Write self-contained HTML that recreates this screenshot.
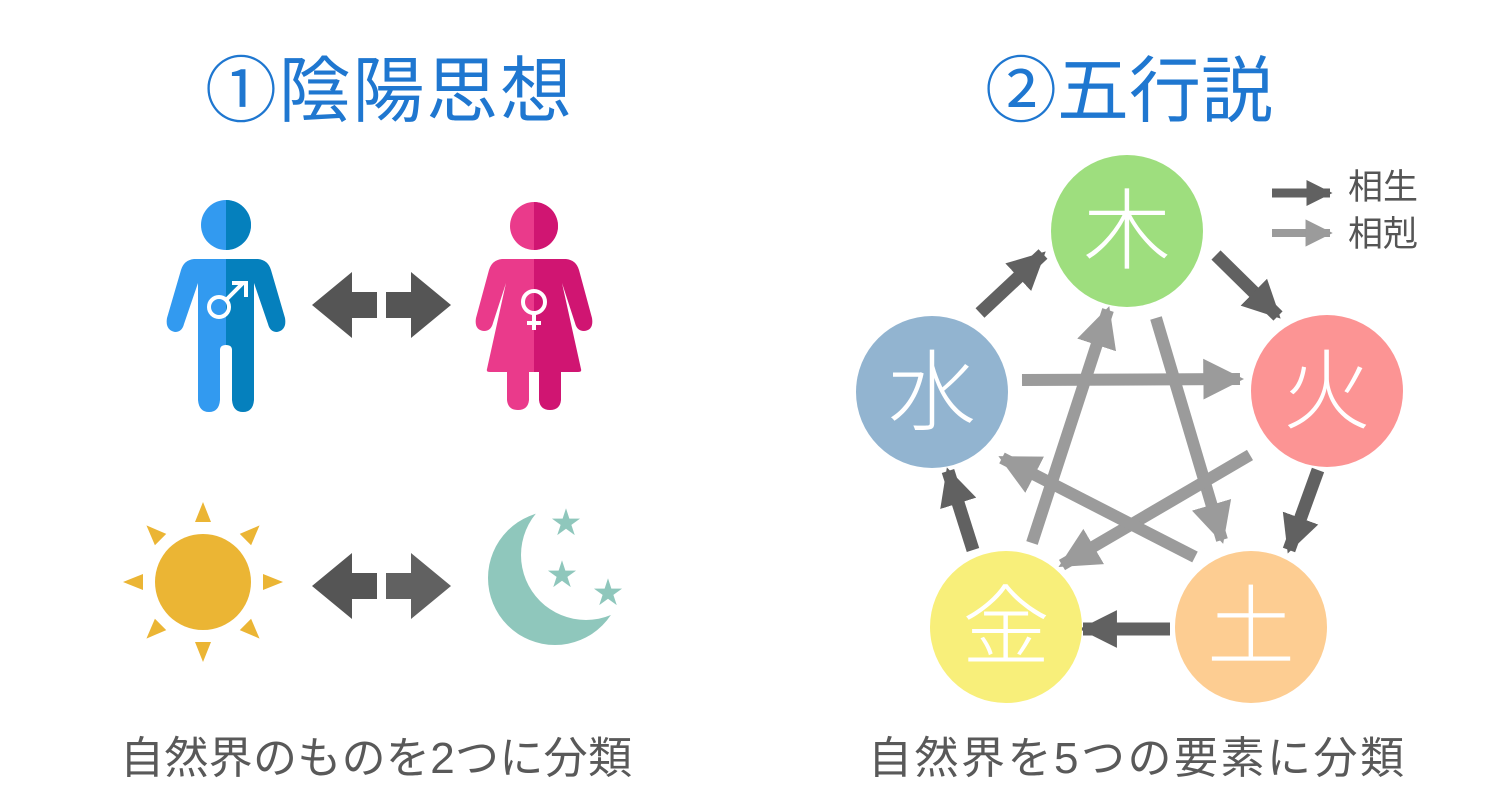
<!DOCTYPE html>
<html><head><meta charset="utf-8"><style>
html,body{margin:0;padding:0;background:#fff;width:1500px;height:800px;overflow:hidden}
svg{display:block}
text{font-family:"Liberation Sans","Noto Sans CJK JP",sans-serif}
</style></head><body>
<svg width="1500" height="800" viewBox="0 0 1500 800" xmlns="http://www.w3.org/2000/svg">
<defs>
<marker id="md" viewBox="0 0 10 10" refX="9" refY="5" markerWidth="2.9" markerHeight="3.2" orient="auto" markerUnits="strokeWidth"><path d="M0,0 L10,5 L0,10 z" fill="#616161"/></marker>
<marker id="mg" viewBox="0 0 10 10" refX="9" refY="5" markerWidth="3.4" markerHeight="3.6" orient="auto" markerUnits="strokeWidth"><path d="M0,0 L10,5 L0,10 z" fill="#9b9b9b"/></marker>
<mask id="moonmask">
<rect x="0" y="0" width="1500" height="800" fill="#000"/>
<circle cx="555" cy="578" r="67" fill="#fff"/>
<circle cx="586" cy="555" r="65" fill="#000"/>
</mask>
</defs>

<text x="205" y="116" font-size="72" fill="#1f77d0" textLength="367">①陰陽思想</text>
<text x="985" y="116" font-size="72" fill="#1f77d0" textLength="288">②五行説</text>

<g>
<circle cx="226" cy="225" r="25" fill="#329af0"/>
<path d="M226 200 A25 25 0 0 1 226 250 z" fill="#0580bd"/>
<path d="M226 259 L194 259 Q184 260 181 270 L167 318 Q165 330 175 332 Q182 332 184 324 L198 283 L198 400 Q199 412 209 412 Q219 412 220 400 L220 350 Q220 345 226 345 Z" fill="#329af0"/>
<path d="M226 259 L258 259 Q268 260 271 270 L285 318 Q287 330 277 332 Q270 332 268 324 L254 283 L254 400 Q253 412 243 412 Q233 412 232 400 L232 350 Q232 345 226 345 Z" fill="#0580bd"/>
<circle cx="219" cy="307" r="10" fill="none" stroke="#fff" stroke-width="4"/>
<path d="M226 300 L243 283 M232 283 L246 283 L246 297" fill="none" stroke="#fff" stroke-width="4"/>
</g>
<g>
<circle cx="534" cy="226" r="24" fill="#ea3a8b"/>
<path d="M534 202 A24 24 0 0 1 534 250 z" fill="#d01572"/>
<path d="M534 259 L502 259 Q492 260 489 270 L476 318 Q474 330 484 331 Q491 331 493 323 L506 283 L487 369 Q486 372 490 372 L507 372 L507 400 Q508 410 518 410 Q528 410 529 400 L529 372 L534 372 Z" fill="#ea3a8b"/>
<path d="M534 259 L566 259 Q576 260 579 270 L592 318 Q594 330 584 331 Q577 331 575 323 L562 283 L581 369 Q582 372 578 372 L561 372 L561 400 Q560 410 550 410 Q540 410 539 400 L539 372 L534 372 Z" fill="#d01572"/>
<circle cx="534" cy="302" r="11" fill="none" stroke="#fff" stroke-width="4"/>
<path d="M534 313 L534 330 M527 323 L541 323" stroke="#fff" stroke-width="4"/>
</g>

<path d="M312 305 L352 272 L352 292 L377 292 L377 318 L352 318 L352 338 Z" fill="#555"/>
<path d="M451 305 L411 272 L411 292 L386 292 L386 318 L411 318 L411 338 Z" fill="#555"/>
<path d="M312 586 L352 553 L352 573 L377 573 L377 599 L352 599 L352 619 Z" fill="#555"/>
<path d="M451 586 L411 553 L411 573 L386 573 L386 599 L411 599 L411 619 Z" fill="#616161"/>

<g fill="#ebb534">
<circle cx="203" cy="582" r="48"/>
<g id="ray"><path d="M195 522 L211 522 L203 502 Z"/></g>
<use href="#ray" transform="rotate(45 203 582)"/>
<use href="#ray" transform="rotate(90 203 582)"/>
<use href="#ray" transform="rotate(135 203 582)"/>
<use href="#ray" transform="rotate(180 203 582)"/>
<use href="#ray" transform="rotate(225 203 582)"/>
<use href="#ray" transform="rotate(270 203 582)"/>
<use href="#ray" transform="rotate(315 203 582)"/>
</g>
<rect x="480" y="500" width="150" height="150" fill="#8fc7bc" mask="url(#moonmask)"/>
<g fill="#8fc7bc" font-size="30">
<text x="551" y="533">★</text>
<text x="547" y="585">★</text>
<text x="593" y="603">★</text>
</g>

<g fill="none" stroke-linecap="butt">
<line x1="1022" y1="380" x2="1240" y2="379" stroke="#9b9b9b" stroke-width="12" marker-end="url(#mg)"/>
<line x1="1156" y1="318" x2="1222" y2="540" stroke="#9b9b9b" stroke-width="12" marker-end="url(#mg)"/>
<line x1="1250" y1="455" x2="1062" y2="565" stroke="#9b9b9b" stroke-width="12" marker-end="url(#mg)"/>
<line x1="1195" y1="557" x2="1002" y2="458" stroke="#9b9b9b" stroke-width="12" marker-end="url(#mg)"/>
<line x1="1032" y1="543" x2="1108" y2="310" stroke="#9b9b9b" stroke-width="12" marker-end="url(#mg)"/>

<line x1="980" y1="313" x2="1043" y2="254" stroke="#616161" stroke-width="13" marker-end="url(#md)"/>
<line x1="1216" y1="255" x2="1278" y2="316" stroke="#616161" stroke-width="13" marker-end="url(#md)"/>
<line x1="1318" y1="470" x2="1289" y2="550" stroke="#616161" stroke-width="13" marker-end="url(#md)"/>
<line x1="1170" y1="629" x2="1083" y2="629" stroke="#616161" stroke-width="13" marker-end="url(#md)"/>
<line x1="973" y1="550" x2="948" y2="471" stroke="#616161" stroke-width="13" marker-end="url(#md)"/>

<line x1="1272" y1="193" x2="1330" y2="193" stroke="#616161" stroke-width="9" marker-end="url(#md)"/>
<line x1="1272" y1="233" x2="1330" y2="233" stroke="#9b9b9b" stroke-width="8" marker-end="url(#mg)"/>
</g>
<text x="1348" y="199" font-size="35" fill="#555">相生</text>
<text x="1348" y="246" font-size="35" fill="#555">相剋</text>

<circle cx="1127" cy="231" r="76" fill="#9ede7e"/>
<circle cx="1327" cy="391" r="76" fill="#fc9494"/>
<circle cx="932" cy="392" r="76" fill="#92b4d0"/>
<circle cx="1006" cy="627" r="76" fill="#f8ef7a"/>
<circle cx="1251" cy="627" r="76" fill="#fdcd92"/>
<g font-size="88" fill="#fff" text-anchor="middle" font-weight="300">
<text x="1127" y="262">木</text>
<text x="1327" y="422">火</text>
<text x="932" y="423">水</text>
<text x="1006" y="658">金</text>
<text x="1251" y="658">土</text>
</g>

<text x="120" y="773" font-size="44" fill="#595959" textLength="512">自然界のものを2つに分類</text>
<text x="868" y="773" font-size="44" fill="#595959" textLength="536">自然界を5つの要素に分類</text>
</svg>
</body></html>
